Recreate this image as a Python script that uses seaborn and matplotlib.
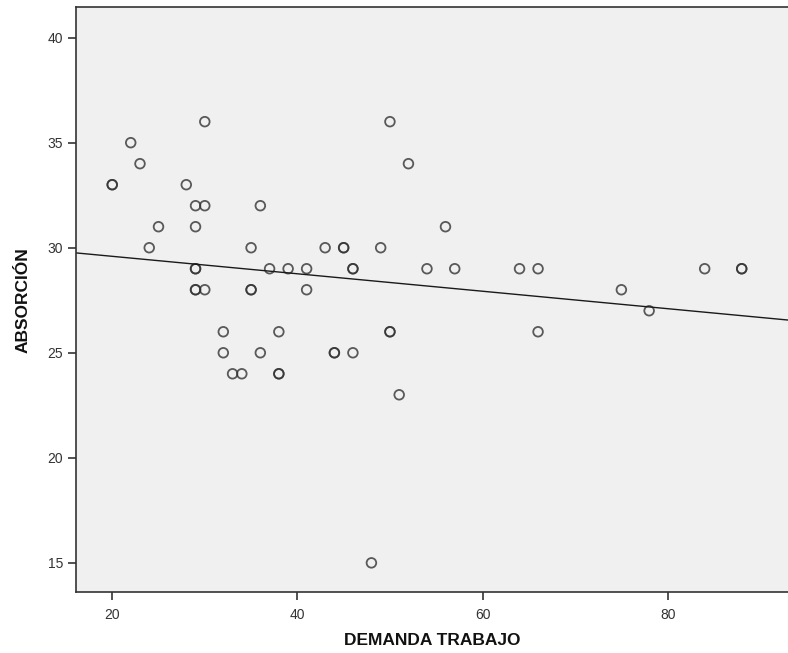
import numpy as np
import pandas as pd
import matplotlib
matplotlib.use("Agg")
import matplotlib.pyplot as plt
import seaborn as sns

# DEMANDA TRABAJO (x) / ABSORCIÓN (y)
demanda = [20, 20, 22, 23, 24, 25, 28, 29, 29, 29, 29, 29, 29, 30, 30, 30,
           32, 32, 33, 34, 35, 35, 35, 36, 36, 37, 38, 38, 38, 39, 41, 41,
           43, 44, 44, 45, 45, 46, 46, 46, 48, 49, 50, 50, 50, 51, 52, 54,
           56, 57, 64, 66, 66, 75, 78, 84, 88, 88]
absorcion = [33, 33, 35, 34, 30, 31, 33, 32, 31, 29, 29, 28, 28, 36, 32, 28,
             26, 25, 24, 24, 30, 28, 28, 32, 25, 29, 26, 24, 24, 29, 29, 28,
             30, 25, 25, 30, 30, 29, 29, 25, 15, 30, 36, 26, 26, 23, 34, 29,
             31, 29, 29, 29, 26, 28, 27, 29, 29, 29]

x_ticks = [20, 40, 60, 80]
y_ticks = [15, 20, 25, 30, 35, 40]


def main():
    df = pd.DataFrame({"DEMANDA TRABAJO": demanda, "ABSORCIÓN": absorcion})

    sns.set_style("ticks")
    plt.rcParams["font.family"] = ["Liberation Sans", "DejaVu Sans"]

    fig = plt.figure(figsize=(7.88, 6.53), dpi=100)
    ax = fig.add_axes([0.096, 0.093, 0.904, 0.896])
    ax.set_facecolor("#f0f0f0")

    # limits first so the fit line (truncate=False) spans the whole axis
    ax.set_xlim(16.05, 93.0)
    ax.set_ylim(13.6, 41.45)

    sns.regplot(data=df, x="DEMANDA TRABAJO", y="ABSORCIÓN", ax=ax,
                ci=None, truncate=False,
                scatter_kws=dict(s=48, facecolors="none", edgecolors="#333333",
                                 linewidths=1.3),
                line_kws=dict(color="#1a1a1a", lw=1.0))

    ax.set_xlim(16.05, 93.0)
    ax.set_ylim(13.6, 41.45)
    ax.set_xticks(x_ticks)
    ax.set_yticks(y_ticks)

    for side in ["left", "bottom", "top"]:
        ax.spines[side].set_color("#333333")
        ax.spines[side].set_linewidth(1.2)
    ax.spines["right"].set_visible(False)

    ax.tick_params(axis="both", direction="out", length=6, width=1.2,
                   color="#333333", labelsize=10, labelcolor="#333333", pad=3)
    ax.tick_params(axis="x", pad=5)

    ax.set_xlabel("DEMANDA TRABAJO", fontsize=12.5, fontweight="bold",
                  color="#111111", labelpad=8)
    ax.set_ylabel("ABSORCIÓN", fontsize=12.5, fontweight="bold",
                  color="#111111", labelpad=12)

    fig.savefig("out.png", dpi=100, facecolor="white")


if __name__ == "__main__":
    main()
